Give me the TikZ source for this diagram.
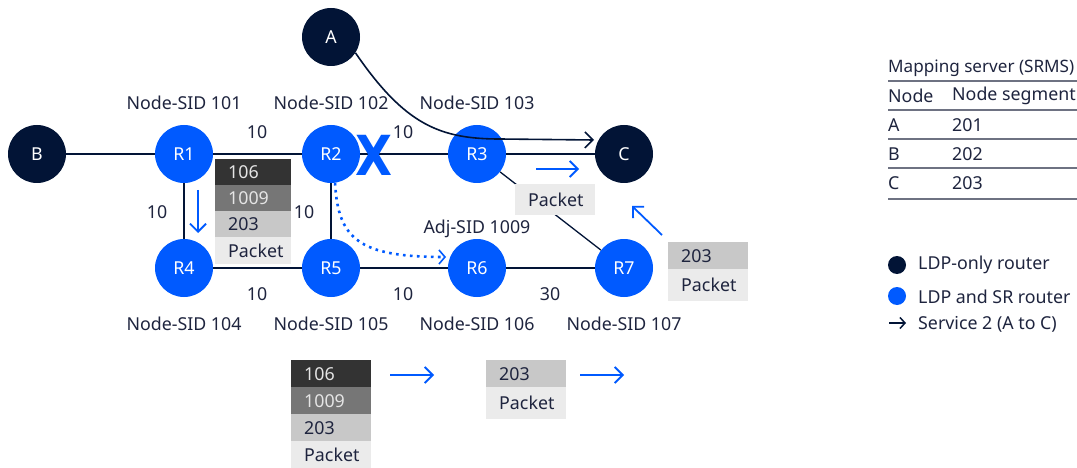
\documentclass[tikz,border=0pt]{standalone}
\usepackage{fontspec}
\setmainfont{Noto Sans}
\newfontfamily\xfont{DejaVu Sans}[BoldFont={DejaVu Sans Bold}]
\usetikzlibrary{arrows.meta,calc}
\definecolor{navy}{RGB}{2,20,54}
\definecolor{nblue}{RGB}{0,90,255}
\definecolor{txt}{RGB}{30,36,62}
\definecolor{lgray}{RGB}{110,114,130}
\definecolor{cA}{RGB}{51,51,51}
\definecolor{cB}{RGB}{118,118,118}
\definecolor{cC}{RGB}{200,200,200}
\definecolor{cD}{RGB}{235,235,235}
\begin{document}
\begin{tikzpicture}[x=1pt,y=-1pt,
  font=\fontsize{17.8}{20}\selectfont,
  router/.style={circle, fill=nblue, minimum size=58pt, inner sep=0pt, text=white},
  ldp/.style={circle, fill=navy, minimum size=58pt, inner sep=0pt, text=white},
  link/.style={draw=navy, line width=1.3pt},
  lbl/.style={text=txt, inner sep=0pt},
  barb/.style={-{Straight Barb[length=8pt,width=16pt,line width=1.8pt]}},
  flow/.style={draw=nblue, line width=1.8pt, barb},
  cellbase/.style={anchor=north west, inner xsep=13pt, inner ysep=0pt, align=left},
  cdark/.style={cellbase, fill=cA, text=white!90!black},
  cmid/.style={cellbase, fill=cB, text=white!90!black},
  clight/.style={cellbase, fill=cC, text=txt},
  cpkt/.style={cellbase, fill=cD, text=txt},
  tline/.style={draw=lgray, line width=1.2pt}]
\useasboundingbox (0,0) rectangle (1077,468);

% nodes
\node[ldp] (A) at (331,37) {A};
\node[ldp] (B) at (37,154) {B};
\node[router] (R1) at (184,154) {R1};
\node[router] (R2) at (331,154) {R2};
\node[router] (R3) at (477,154) {R3};
\node[ldp] (C) at (624,154) {C};
\node[router] (R4) at (184,268) {R4};
\node[router] (R5) at (331,268) {R5};
\node[router] (R6) at (477,268) {R6};
\node[router] (R7) at (624,268) {R7};

% links
\draw[link] (B) -- (R1);
\draw[link] (R1) -- (R2);
\draw[link] (R2) -- (R3);
\draw[link] (R3) -- (C);
\draw[link] (R1) -- (R4);
\draw[link] (R2) -- (R5);
\draw[link] (R4) -- (R5);
\draw[link] (R5) -- (R6);
\draw[link] (R6) -- (R7);
\draw[link] (R3) -- (R7);

% failure mark
\node[text=nblue, font=\xfont\bfseries\fontsize{48}{48}\selectfont, inner sep=0pt, yscale=1.15] (X) at (374,155) {X};

% link metrics
\node[lbl] (m12) at (257,132) {10};
\node[lbl] (m23) at (403,132) {10};
\node[lbl] (m14) at (157,212) {10};
\node[lbl] (m25) at (304,212) {10};
\node[lbl] (m45) at (257,294) {10};
\node[lbl] (m56) at (403,294) {10};
\node[lbl] (m67) at (550,294) {30};

% SIDs
\node[lbl] (s101) at (184,103) {Node-SID 101};
\node[lbl] (s102) at (331,103) {Node-SID 102};
\node[lbl] (s103) at (477,103) {Node-SID 103};
\node[lbl] (s104) at (184,324) {Node-SID 104};
\node[lbl] (s105) at (331,324) {Node-SID 105};
\node[lbl] (s106) at (477,324) {Node-SID 106};
\node[lbl] (s107) at (624,324) {Node-SID 107};
\node[lbl] (adj) at (477,229) {Adj-SID 1009};

% service path A -> C
\coordinate (cin) at (594,140);
\draw[draw=navy, line width=1.6pt, -{Straight Barb[length=8pt,width=16pt,line width=1.6pt]}]
  (A.-33) .. controls (405,125) and (440,139) .. (500,139) -- (cin);

% dotted adjacency
\coordinate (r6in) at (446,257);
\draw[draw=nblue, line width=2.6pt, dash pattern=on 2.6pt off 4.4pt, -{Straight Barb[length=6pt,width=14pt,line width=1.6pt]}]
  (R2.-82) .. controls (338,240) and (360,257) .. (r6in);

% flow arrows
\coordinate (d1) at (198,190); \coordinate (d2) at (198,233);
\draw[flow] (d1) -- (d2);
\coordinate (e1) at (536,169); \coordinate (e2) at (579,169);
\draw[flow] (e1) -- (e2);
\coordinate (f1) at (662,235); \coordinate (f2) at (632,206);
\draw[flow] (f1) -- (f2);
\coordinate (g1) at (390,375); \coordinate (g2) at (434,375);
\draw[flow] (g1) -- (g2);
\coordinate (h1) at (580,375); \coordinate (h2) at (624,375);
\draw[flow] (h1) -- (h2);

% packet stack near R1
\node[cdark, text width=50pt, minimum height=26pt] (p1a) at (215,159) {106};
\node[cmid, text width=50pt, minimum height=26pt] (p1b) at (215,185) {1009};
\node[clight, text width=50pt, minimum height=26pt] (p1c) at (215,211) {203};
\node[cpkt, text width=50pt, minimum height=27pt] (p1d) at (215,237) {Packet};

% packet near C
\node[cpkt, text width=54pt, minimum height=31pt] (p2) at (515,184) {Packet};

% stack near R7
\node[clight, text width=54pt, minimum height=27pt] (p3a) at (668,242) {203};
\node[cpkt, text width=54pt, minimum height=32pt] (p3b) at (668,269) {Packet};

% bottom stacks
\node[cdark, text width=54pt, minimum height=27pt] (p4a) at (291,360) {106};
\node[cmid, text width=54pt, minimum height=27pt] (p4b) at (291,387) {1009};
\node[clight, text width=54pt, minimum height=27pt] (p4c) at (291,414) {203};
\node[cpkt, text width=54pt, minimum height=27pt] (p4d) at (291,441) {Packet};

\node[clight, text width=54pt, minimum height=27pt] (p5a) at (486,360) {203};
\node[cpkt, text width=54pt, minimum height=32pt] (p5b) at (486,387) {Packet};

% mapping table
\node[lbl, anchor=west, font=\fontsize{17.1}{20}\selectfont] (t0) at (888,68) {Mapping server (SRMS)};
\draw[tline, line width=1.8pt] (888,81) -- (1077,81);
\node[lbl, anchor=west] (t1a) at (888,96) {Node};
\node[lbl, anchor=west] (t1b) at (952,96) {Node segment};
\draw[tline] (888,110) -- (1077,110);
\node[lbl, anchor=west] (t2a) at (888,125) {A};
\node[lbl, anchor=west] (t2b) at (952,125) {201};
\draw[tline] (888,139) -- (1077,139);
\node[lbl, anchor=west] (t3a) at (888,154) {B};
\node[lbl, anchor=west] (t3b) at (952,154) {202};
\draw[tline] (888,168) -- (1077,168);
\node[lbl, anchor=west] (t4a) at (888,183) {C};
\node[lbl, anchor=west] (t4b) at (952,183) {203};
\draw[tline] (888,199) -- (1077,199);

% legend
\node[circle, fill=navy, minimum size=18pt, inner sep=0pt] (l1) at (897,265) {};
\node[lbl, anchor=west] (l1t) at (918,265) {LDP-only router};
\node[circle, fill=nblue, minimum size=18pt, inner sep=0pt] (l2) at (897,296) {};
\node[lbl, anchor=west] (l2t) at (918,297) {LDP and SR router};
\coordinate (l3a) at (889,323); \coordinate (l3b) at (906,323);
\draw[draw=navy, line width=1.5pt, -{Straight Barb[length=5pt,width=11pt,line width=1.5pt]}] (l3a) -- (l3b);
\node[lbl, anchor=west] (l3t) at (918,324) {Service 2 (A to C)};
\end{tikzpicture}
\end{document}
